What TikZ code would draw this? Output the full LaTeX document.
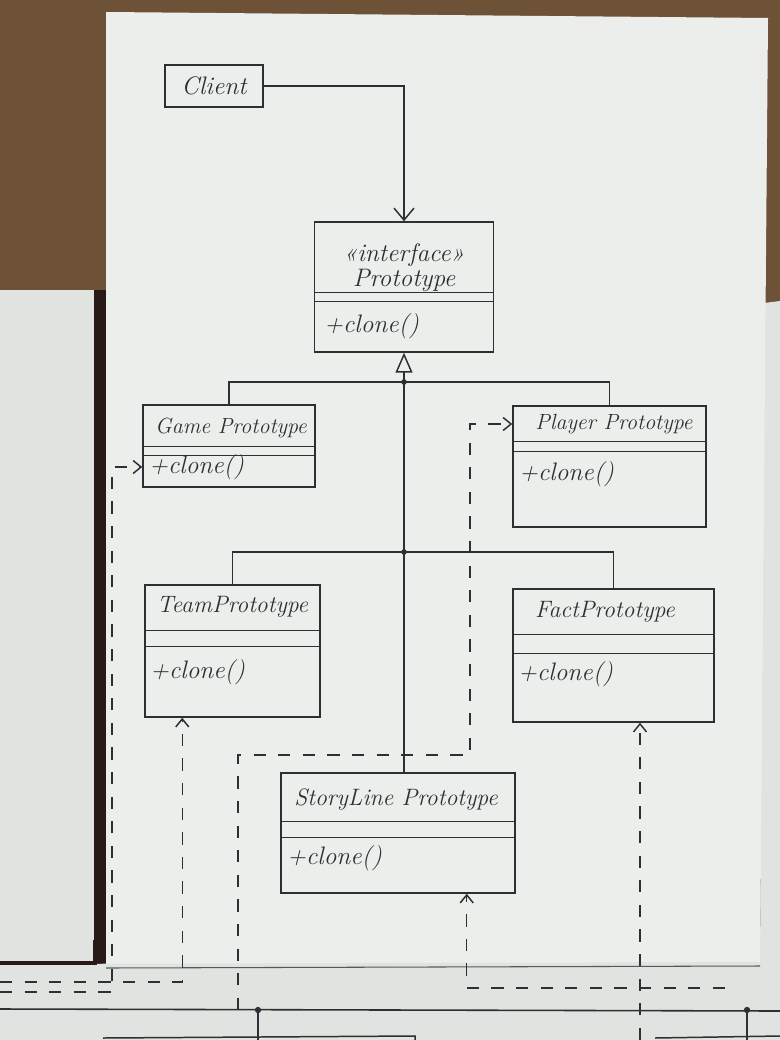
\documentclass[tikz,border=0pt]{standalone}
\usetikzlibrary{positioning,arrows.meta,calc}
\definecolor{InkGray}{RGB}{45,47,52}
\definecolor{PaperWhite}{RGB}{236,238,236}
\definecolor{PaperShade}{RGB}{224,227,223}
\definecolor{TableBrown}{RGB}{110,82,56}
\definecolor{TableDark}{RGB}{40,26,22}
\tikzset{
  ink/.style={draw=InkGray,line width=0.85pt},
  classbox/.style={ink,rectangle,inner sep=0pt,text=InkGray,font=\Large\itshape},
  classname/.style={text=InkGray,font=\fontsize{13.5}{16}\selectfont\itshape,inner sep=1pt},
  smallname/.style={classname,font=\fontsize{12.5}{15}\selectfont\itshape},
  ops/.style={text=InkGray,font=\Large\itshape,anchor=west,inner sep=1pt},
  assoc/.style={ink,-{Straight Barb[length=2.4mm,width=4mm]}},
  inherit/.style={ink,-{Triangle[open,length=4mm,width=3.4mm]}},
  dep/.style={ink,dash pattern=on 7pt off 7pt,-{Straight Barb[length=1.6mm,width=2.6mm]}},
  rail/.style={ink,line width=0.9pt}
}
\begin{document}
\begin{tikzpicture}[x=0.02cm,y=-0.02cm]
  \useasboundingbox (0,0) rectangle (780,1040);
  % desk and sheets
  \fill[TableBrown] (0,0) rectangle (780,1040);
  \fill[TableDark] (90,290) rectangle (110,970);
  \fill[PaperShade] (0,290) -- (94,290) -- (94,962) -- (0,962) -- cycle;
  \fill[PaperShade] (764,303) -- (780,301) -- (780,966) -- (760,966) -- cycle;
  \fill[PaperWhite] (106,12) -- (768,18) -- (760,966) -- (106,968) -- cycle;
  \fill[PaperShade] (0,964) -- (780,962) -- (780,1040) -- (0,1040) -- cycle;
  \draw[TableDark,line width=2.4pt] (0,963) -- (95,963) -- (95,940);
  \draw[InkGray!80,line width=0.6pt] (106,968) -- (760,966);

  % classes
  \node[classbox,minimum width=1.96cm,minimum height=0.84cm] (client) at (214,86) {Client};

  \node[classbox,minimum width=3.58cm,minimum height=2.6cm] (proto) at (404,287) {};
  \node[classname,font=\Large\itshape] (protoStereo) at (404,255) {«interface»};
  \node[classname,font=\Large\itshape] (protoName) at (404,280) {Prototype};
  \draw[ink] ($(proto.north west)+(0,71)$) -- ($(proto.north east)+(0,71)$);
  \draw[ink] ($(proto.north west)+(0,80)$) -- ($(proto.north east)+(0,80)$);
  \node[ops] (protoOps) at (322,326) {+clone()};

  \node[classbox,minimum width=3.44cm,minimum height=1.64cm] (game) at (229,446) {};
  \node[smallname] (gameName) at (231,428) {Game Prototype};
  \draw[ink] ($(game.north west)+(0,42)$) -- ($(game.north east)+(0,42)$);
  \draw[ink] ($(game.north west)+(0,51)$) -- ($(game.north east)+(0,51)$);
  \node[ops] (gameOps) at (147,467) {+clone()};

  \node[classbox,minimum width=3.86cm,minimum height=2.42cm] (player) at (609.5,466.5) {};
  \node[smallname] (playerName) at (614,424) {Player Prototype};
  \draw[ink] ($(player.north west)+(0,36)$) -- ($(player.north east)+(0,36)$);
  \draw[ink] ($(player.north west)+(0,46)$) -- ($(player.north east)+(0,46)$);
  \node[ops] (playerOps) at (517,474) {+clone()};

  \node[classbox,minimum width=3.5cm,minimum height=2.64cm] (team) at (232.5,651) {};
  \node[classname] (teamName) at (232.5,607) {TeamPrototype};
  \draw[ink] ($(team.north west)+(0,46)$) -- ($(team.north east)+(0,46)$);
  \draw[ink] ($(team.north west)+(0,62)$) -- ($(team.north east)+(0,62)$);
  \node[ops] (teamOps) at (148,672) {+clone()};

  \node[classbox,minimum width=4.02cm,minimum height=2.66cm] (fact) at (613.5,655.5) {};
  \node[classname] (factName) at (605,612) {FactPrototype};
  \draw[ink] ($(fact.north west)+(0,46)$) -- ($(fact.north east)+(0,46)$);
  \draw[ink] ($(fact.north west)+(0,65)$) -- ($(fact.north east)+(0,65)$);
  \node[ops] (factOps) at (516,674) {+clone()};

  \node[classbox,minimum width=4.68cm,minimum height=2.4cm] (story) at (398,833) {};
  \node[classname] (storyName) at (396,800) {StoryLine Prototype};
  \draw[ink] ($(story.north west)+(0,49)$) -- ($(story.north east)+(0,49)$);
  \draw[ink] ($(story.north west)+(0,65)$) -- ($(story.north east)+(0,65)$);
  \node[ops] (storyOps) at (285,858) {+clone()};

  % client and inheritance
  \coordinate (j1) at (404,382);
  \coordinate (j2) at (404,552);
  \draw[assoc] (client.east) -| (proto.north);
  \draw[inherit] (j1) -- (proto.south);
  \draw[ink] (story.north -| j1) -- (j1);
  \draw[ink] (game.north) |- (j1) -| (player.north);
  \draw[ink] (team.north) |- (j2) -| (fact.north);
  \fill[InkGray] (j1) circle (1.6pt);
  \fill[InkGray] (j2) circle (1.6pt);

  % dependencies coming from the sheet below
  \coordinate (gameSrc) at (0,992);
  \coordinate (teamSrc) at (0,982);
  \coordinate (playerSrc) at (238,1010);
  \coordinate (storySrc) at (725,988);
  \coordinate (factSrc) at (640,1040);
  \draw[dep] (gameSrc) -- ++(112,0) |- (game.west |- gameOps);
  \draw[dep] (teamSrc) -| ($(team.south west)+(38,0)$);
  \draw[dep] (playerSrc) -- ++(0,-255) -- (470,755) |- (player.west |- playerName);
  \draw[dep] (storySrc) -| ($(story.south east)+(-49,0)$);
  \draw[dep] (factSrc) -- (factSrc |- fact.south);

  % lines on the sheet below
  \coordinate (railW) at (0,1009);
  \coordinate (railE) at (780,1011);
  \coordinate (tapA) at (258,1010);
  \coordinate (tapB) at (747,1010);
  \draw[rail] (railW) -- (railE);
  \draw[rail] (tapA) -- (tapA |- 0,1040);
  \draw[rail] (tapB) -- (tapB |- 0,1040);
  \fill[InkGray] (tapA) circle (1.8pt);
  \fill[InkGray] (tapB) circle (1.8pt);
  \draw[ink] (103,1038) -- (415,1036) -- (415,1040);
  \draw[ink] (655,1038) -- (780,1036);
\end{tikzpicture}
\end{document}
